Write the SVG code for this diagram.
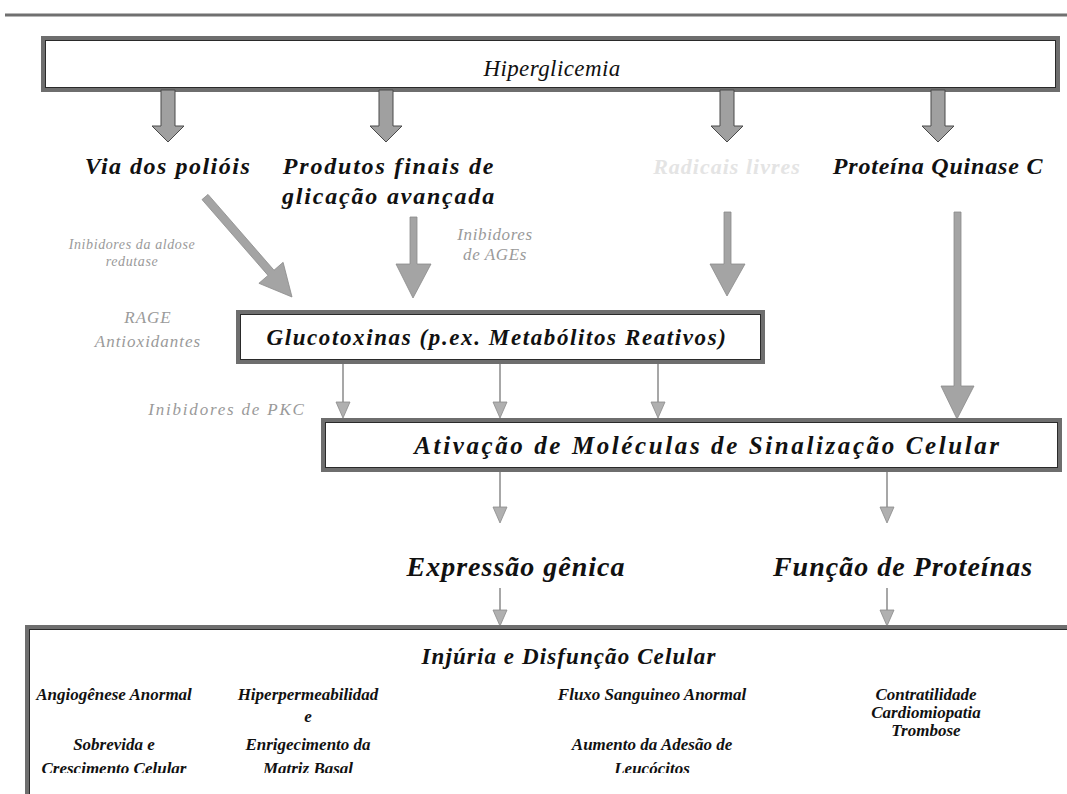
<svg xmlns="http://www.w3.org/2000/svg" width="1067" height="794" viewBox="0 0 1067 794" font-family="Liberation Serif, Times New Roman, serif">
<defs>
<style>
.t{font-style:italic;font-weight:bold;fill:#111;text-anchor:middle}
.g{font-style:italic;fill:#9a9a9a;text-anchor:middle}
.box{fill:#fff;stroke:#6e6e6e;stroke-width:4}
.inner{fill:none;stroke:#2a2a2a;stroke-width:1}
.big{fill:#a0a0a0;stroke:#4a4a4a;stroke-width:1}
.med{fill:#a4a4a4;stroke:#8a8a8a;stroke-width:0.8}
.ln{stroke:#8a8a8a;stroke-width:1.5;fill:none}
.sm{fill:#b0b0b0;stroke:#8a8a8a;stroke-width:0.8}
.sub{font-size:17px}
.top{font-size:24px;letter-spacing:1.5px}
</style>
<clipPath id="cut"><rect x="0" y="0" width="1067" height="773"/></clipPath>
</defs>
<rect x="0" y="0" width="1067" height="794" fill="#fff"/>
<line x1="5" y1="15" x2="1067" y2="15" stroke="#707070" stroke-width="3"/>

<g id="hiperglicemia">
<rect class="box" x="43" y="38" width="1015" height="52"/>
<rect class="inner" x="45.5" y="40.5" width="1010" height="47"/>
<text class="t" x="552" y="76" font-size="23" style="font-weight:normal;letter-spacing:0.4px">Hiperglicemia</text>
</g>

<g id="connectors">
<polygon class="big" points="161,90 175,90 175,126 184,126 168,142 152,126 161,126"/>
<polygon class="big" points="379,90 393,90 393,126 402,126 386,142 370,126 379,126"/>
<polygon class="big" points="720,90 734,90 734,126 743,126 727,142 711,126 720,126"/>
<polygon class="big" points="931,90 945,90 945,126 954,126 938,142 922,126 931,126"/>
<polygon class="med" points="208,194.4 274,270.2 283.1,262.3 292,297 258.9,283.3 268,275.4 202,199.6"/>
<polygon class="med" points="410,217 417,217 417,264 431,264 413,298 396,264 410,264"/>
<polygon class="med" points="724,212 731,212 731,264 745,264 727,296 710,264 724,264"/>
<polygon class="med" points="954,212 961,212 961,386 974,386 957,419 941,386 954,386"/>
<line class="ln" x1="343" y1="362" x2="343" y2="402"/>
<polygon class="sm" points="336,402 350,402 343,418"/>
<line class="ln" x1="500" y1="362" x2="500" y2="402"/>
<polygon class="sm" points="493,402 507,402 500,418"/>
<line class="ln" x1="658" y1="362" x2="658" y2="402"/>
<polygon class="sm" points="651,402 665,402 658,418"/>
<line class="ln" x1="500" y1="471" x2="500" y2="507"/>
<polygon class="sm" points="493,507 507,507 500,523"/>
<line class="ln" x1="887" y1="471" x2="887" y2="507"/>
<polygon class="sm" points="880,507 894,507 887,523"/>
<line class="ln" x1="500" y1="588" x2="500" y2="610"/>
<polygon class="sm" points="493,610 507,610 500,626"/>
<line class="ln" x1="887" y1="588" x2="887" y2="610"/>
<polygon class="sm" points="880,610 894,610 887,626"/>
</g>

<g id="via-poliois"><text class="t top" x="168" y="174">Via dos polióis</text></g>
<g id="produtos-finais">
<text class="t top" x="389" y="174" style="letter-spacing:1.8px">Produtos finais de</text>
<text class="t top" x="389" y="204" style="letter-spacing:1.8px">glicação avançada</text>
</g>
<g id="radicais-livres"><text class="g" x="727" y="174" font-size="22" style="fill:#e4e4e4;font-weight:bold;letter-spacing:1px">Radicais livres</text></g>
<g id="proteina-quinase"><text class="t top" x="938" y="174" style="letter-spacing:0.8px">Proteína Quinase C</text></g>

<g id="inibidores-aldose">
<text class="g" x="132" y="249" font-size="14" style="letter-spacing:0.6px">Inibidores da aldose</text>
<text class="g" x="132" y="266" font-size="14" style="letter-spacing:0.6px">redutase</text>
</g>
<g id="inibidores-ages">
<text class="g" x="495" y="240" font-size="17" style="letter-spacing:0.6px">Inibidores</text>
<text class="g" x="495" y="260" font-size="17" style="letter-spacing:0.6px">de AGEs</text>
</g>
<g id="rage">
<text class="g" x="148" y="323" font-size="17" style="letter-spacing:1px">RAGE</text>
<text class="g" x="148" y="347" font-size="17" style="letter-spacing:1px">Antioxidantes</text>
</g>
<g id="inibidores-pkc"><text class="g" x="227" y="415" font-size="17" style="letter-spacing:1.8px">Inibidores de PKC</text></g>

<g id="glucotoxinas">
<rect class="box" x="238" y="312" width="525" height="50"/>
<rect class="inner" x="240.5" y="314.5" width="520" height="45"/>
<text class="t" x="497" y="345" font-size="23" style="letter-spacing:1.6px">Glucotoxinas (p.ex. Metabólitos Reativos)</text>
</g>

<g id="ativacao">
<rect class="box" x="323" y="420" width="737" height="50"/>
<rect class="inner" x="325.5" y="422.5" width="732" height="45"/>
<text class="t" x="708" y="454" font-size="25" style="letter-spacing:2.6px">Ativação de Moléculas de Sinalização Celular</text>
</g>

<g id="expressao"><text class="t" x="516" y="576" font-size="28" style="letter-spacing:1px">Expressão gênica</text></g>
<g id="funcao"><text class="t" x="903" y="576" font-size="28" style="letter-spacing:1px">Função de Proteínas</text></g>

<g id="injuria">
<rect class="box" x="27" y="627" width="1060" height="190"/>
<rect class="inner" x="29.5" y="629.5" width="1060" height="190"/>
<text class="t" x="569" y="664" font-size="23" style="letter-spacing:1.1px">Injúria e Disfunção Celular</text>
<text class="t sub" x="114" y="700">Angiogênese Anormal</text>
<text class="t sub" x="114" y="750">Sobrevida e</text>
<text class="t sub" x="114" y="774" clip-path="url(#cut)">Crescimento Celular</text>
<text class="t sub" x="308" y="700">Hiperpermeabilidad</text>
<text class="t sub" x="308" y="722">e</text>
<text class="t sub" x="308" y="750">Enrigecimento da</text>
<text class="t sub" x="308" y="774" clip-path="url(#cut)">Matriz Basal</text>
<text class="t sub" x="652" y="700">Fluxo Sanguineo Anormal</text>
<text class="t sub" x="652" y="750">Aumento da Adesão de</text>
<text class="t sub" x="652" y="774" clip-path="url(#cut)">Leucócitos</text>
<text class="t sub" x="926" y="700">Contratilidade</text>
<text class="t sub" x="926" y="718">Cardiomiopatia</text>
<text class="t sub" x="926" y="736">Trombose</text>
</g>
</svg>
